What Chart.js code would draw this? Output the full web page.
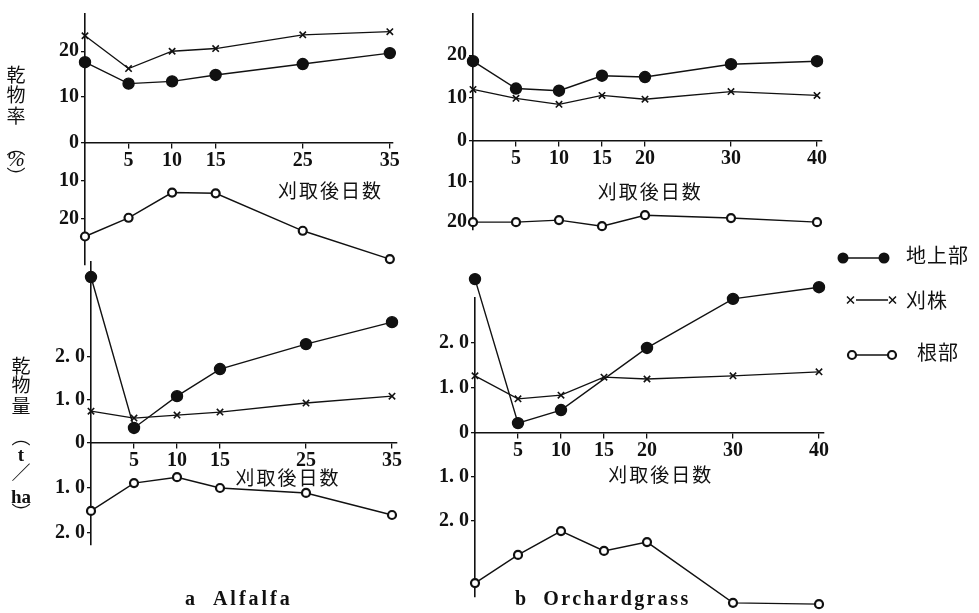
<!DOCTYPE html>
<html>
<head>
<meta charset="utf-8">
<script src="https://cdn.jsdelivr.net/npm/chart.js@4"></script>
<style>
  html, body { margin: 0; padding: 0; background: #fff; }
  #wrap { position: relative; width: 979px; height: 613px; overflow: hidden; background: #fff; }
  #wrap canvas { position: absolute; left: 0; top: 0; }
  .ch { position: absolute; width: 24px; text-align: center; line-height: 1;
        font-family: "Noto Sans CJK JP", sans-serif; font-size: 19px; color: #111; }
  .key { position: absolute; }
  .keytxt { position: absolute; font-family: "Noto Sans CJK JP", sans-serif; font-size: 20px;
            color: #111; letter-spacing: 1px; line-height: 1; }
  .cap { position: absolute; font-family: "Liberation Serif", serif; font-weight: bold;
         font-size: 20px; color: #111; letter-spacing: 3px; line-height: 1; white-space: pre; }
</style>
</head>
<body>
<div id="wrap">
  <canvas id="aRate" width="979" height="613"></canvas>
  <canvas id="bRate" width="979" height="613"></canvas>
  <canvas id="aMass" width="979" height="613"></canvas>
  <canvas id="bMass" width="979" height="613"></canvas>

  <!-- vertical axis names -->
  <div class="ch" style="left:4px;top:64px">乾</div>
  <div class="ch" style="left:4px;top:84px">物</div>
  <div class="ch" style="left:4px;top:105px">率</div>
  <div class="ch" style="left:4px;top:136px">︵</div>
  <div class="ch" style="left:4px;top:149px;font-family:'Liberation Serif';font-style:italic;font-size:21px">%</div>
  <div class="ch" style="left:4px;top:166px">︶</div>

  <div class="ch" style="left:9px;top:355px">乾</div>
  <div class="ch" style="left:9px;top:374px">物</div>
  <div class="ch" style="left:9px;top:395px">量</div>
  <div class="ch" style="left:9px;top:426px">︵</div>
  <div class="ch" style="left:9px;top:445px;font-family:'Liberation Serif';font-weight:bold">t</div>
  <div class="ch" style="left:9px;top:462px">／</div>
  <div class="ch" style="left:9px;top:487px;font-family:'Liberation Serif';font-weight:bold">ha</div>
  <div class="ch" style="left:9px;top:502px">︶</div>

  <!-- key -->
  <svg class="key" style="left:834px;top:248px" width="60" height="20">
    <line x1="9" y1="10" x2="50" y2="10" stroke="#111" stroke-width="1.5"/>
    <circle cx="9" cy="10" r="5.5" fill="#111"/><circle cx="50" cy="10" r="5.5" fill="#111"/>
  </svg>
  <div class="keytxt" style="left:906px;top:245px">地上部</div>
  <svg class="key" style="left:844px;top:290px" width="56" height="20">
    <line x1="12" y1="10" x2="44" y2="10" stroke="#111" stroke-width="1.5"/>
    <path d="M3 6.5 L10 13.5 M10 6.5 L3 13.5 M45 6.5 L52 13.5 M52 6.5 L45 13.5" stroke="#111" stroke-width="1.5"/>
  </svg>
  <div class="keytxt" style="left:906px;top:290px">刈株</div>
  <svg class="key" style="left:842px;top:345px" width="60" height="20">
    <line x1="14" y1="10" x2="46" y2="10" stroke="#111" stroke-width="1.5"/>
    <circle cx="10" cy="10" r="4" fill="#fff" stroke="#111" stroke-width="2.2"/>
    <circle cx="50" cy="10" r="4" fill="#fff" stroke="#111" stroke-width="2.2"/>
  </svg>
  <div class="keytxt" style="left:917px;top:342px">根部</div>

  <div class="cap" style="left:185px;top:588px">a  Alfalfa</div>
  <div class="cap" style="left:515px;top:588px;letter-spacing:2.4px">b  Orchardgrass</div>
</div>

<script>
// Days after cutting (刈取後日数)
const daysA = [0, 5, 10, 15, 25, 35];
const daysB = [0, 5, 10, 15, 20, 30, 40];
const dayTicksA = [5, 10, 15, 25, 35];
const dayTicksB = [5, 10, 15, 20, 30, 40];

const seriesNames = ['地上部', '刈株', '根部'];

// Dry matter ratio (%) — tops and stubble plotted upward, roots downward
const rateA_top     = [17.6, 12.9, 13.4, 14.8, 17.2, 19.6];
const rateA_stubble = [23.4, 16.2, 20.0, 20.6, 23.6, 24.3];
const rateA_root    = [24.6, 19.7, 13.1, 13.3, 23.1, 30.5];
const rateB_top     = [18.6, 12.2, 11.7, 15.2, 14.9, 17.9, 18.6];
const rateB_stubble = [12.0, 9.9, 8.5, 10.6, 9.7, 11.5, 10.6];
const rateB_root    = [20.0, 20.0, 19.5, 21.0, 18.3, 19.0, 20.0];

// Dry matter weight (t/ha)
const massA_top     = [3.86, 0.35, 1.09, 1.72, 2.30, 2.81];
const massA_stubble = [0.74, 0.58, 0.65, 0.72, 0.93, 1.09];
const massA_root    = [1.51, 0.89, 0.76, 1.00, 1.11, 1.60];
const massB_top     = [3.42, 0.22, 0.51, null, 1.89, 2.98, 3.24];
const massB_stubble = [1.27, 0.76, 0.84, 1.24, 1.20, 1.27, 1.36];
const massB_root    = [3.41, 2.77, 2.23, 2.68, 2.48, 3.86, 3.89];

// Axis tick labels
const rateUpTicks = [0, 10, 20];
const rateDownTicks = [10, 20];
const massUpTicks = [0, 1, 2];
const massDownTicks = [1, 2];

const AXIS_TITLE = '刈取後日数';

const INK = '#111';
const AXW = 50;
const PAGE_W = 979, PAGE_H = 613;

Chart.defaults.font.family = '"Liberation Serif", serif';
Chart.defaults.font.size = 20;
Chart.defaults.color = INK;

// markers are allowed to sit beyond the ends of the short axis spines
const PointEl = Chart.registry.getElement('point');
const basePointDraw = PointEl.prototype.draw;
const OPEN_AREA = { left: -1e5, top: -1e5, right: 1e5, bottom: 1e5 };
PointEl.prototype.draw = function (ctx) { return basePointDraw.call(this, ctx, OPEN_AREA); };

const rateFmt = v => String(v);
const massFmt = v => (v === 0 ? '0' : v.toFixed(1).replace('.', '. '));

// caption under the day axis, placed along the x scale
const dayCaption = {
  id: 'dayCaption',
  afterDraw(chart, args, opts) {
    const { ctx } = chart;
    const x = chart.scales.x.getPixelForValue(opts.at);
    const y = chart.scales.yTop.getPixelForValue(0) + opts.dy;
    ctx.save();
    ctx.font = '19px "Noto Sans CJK JP", sans-serif';
    ctx.letterSpacing = '2px';
    ctx.fillStyle = INK;
    ctx.textAlign = 'center';
    ctx.textBaseline = 'middle';
    ctx.fillText(opts.text, x, y);
    ctx.restore();
  }
};

const tickFont = { size: 20, weight: 'bold' };

function section(id, g, days, dayTicks, top, stubble, root, upTicks, downTicks, fmt, cap) {
  const upMax = (g.zeroY - g.topY) / g.upPx;
  const downMax = (g.bottomY - g.zeroY) / g.downPx;
  const xMax = (g.rightX - g.axisX) / g.dayPx;
  const pts = vals => days.map((d, i) => ({ x: d, y: vals[i] }));
  const tickSet = list => s => { s.ticks = list.map(v => ({ value: v })); };
  const yAxis = (extra) => Object.assign({
    type: 'linear', position: 'left', stack: 'side',
    afterFit: s => { s.width = AXW; },
    grid: { drawOnChartArea: false, tickLength: 4, color: INK, lineWidth: 1.3 },
    border: { color: INK, width: 1.6 },
    ticks: { padding: 2, color: INK, callback: fmt, font: tickFont }
  }, extra);

  return new Chart(document.getElementById(id), {
    type: 'line',
    data: {
      datasets: [
        { label: seriesNames[0], data: pts(top), yAxisID: 'yTop', spanGaps: true,
          borderColor: INK, backgroundColor: INK, borderWidth: 1.4,
          pointStyle: 'circle', pointRadius: 5.5, pointBackgroundColor: INK, pointBorderColor: INK },
        { label: seriesNames[1], data: pts(stubble), yAxisID: 'yTop',
          borderColor: INK, borderWidth: 1.3,
          pointStyle: 'crossRot', pointRadius: 4.5, pointBorderWidth: 1.6, pointBorderColor: INK },
        { label: seriesNames[2], data: pts(root), yAxisID: 'yBot',
          borderColor: INK, borderWidth: 1.4,
          pointStyle: 'circle', pointRadius: 4, pointBorderWidth: 2.2,
          pointBackgroundColor: '#fff', pointBorderColor: INK }
      ]
    },
    options: {
      responsive: false,
      animation: false,
      events: [],
      layout: { padding: { left: g.axisX - AXW, top: g.topY, right: PAGE_W - g.rightX, bottom: PAGE_H - g.bottomY } },
      elements: { line: { tension: 0, fill: false } },
      datasets: { line: { clip: false } },
      plugins: { legend: { display: false }, tooltip: { enabled: false },
                 dayCaption: { text: AXIS_TITLE, at: cap.at, dy: cap.dy } },
      scales: {
        x: {
          type: 'linear', min: 0, max: xMax, position: { yTop: 0 },
          afterBuildTicks: tickSet(dayTicks),
          grid: { drawOnChartArea: false, tickLength: 5, color: INK, lineWidth: 1.3 },
          border: { color: INK, width: 1.6 },
          ticks: { padding: 1, color: INK, autoSkip: false, maxRotation: 0, font: tickFont }
        },
        yTop: yAxis({ min: 0, max: upMax, weight: 2, stackWeight: g.zeroY - g.topY,
                      afterBuildTicks: tickSet(upTicks) }),
        yBot: yAxis({ min: 0, max: downMax, reverse: true, weight: 1, stackWeight: g.bottomY - g.zeroY,
                      afterBuildTicks: tickSet(downTicks) })
      }
    },
    plugins: [dayCaption]
  });
}

section('aRate',
  { axisX: 85, zeroY: 140, topY: 9, bottomY: 265, upPx: 4.65, downPx: 3.9, dayPx: 8.71, rightX: 393 },
  daysA, dayTicksA, rateA_top, rateA_stubble, rateA_root, rateUpTicks, rateDownTicks, rateFmt,
  { at: 28.2, dy: 48 });

section('bRate',
  { axisX: 473, zeroY: 139, topY: 10, bottomY: 230, upPx: 4.35, downPx: 4.15, dayPx: 8.6, rightX: 822 },
  daysB, dayTicksB, rateB_top, rateB_stubble, rateB_root, rateUpTicks, rateDownTicks, rateFmt,
  { at: 20.6, dy: 51 });

section('aMass',
  { axisX: 91, zeroY: 443, topY: 262, bottomY: 545, upPx: 43, downPx: 45, dayPx: 8.6, rightX: 397 },
  daysA, dayTicksA, massA_top, massA_stubble, massA_root, massUpTicks, massDownTicks, massFmt,
  { at: 22.9, dy: 35 });

section('bMass',
  { axisX: 475, zeroY: 433, topY: 298, bottomY: 597, upPx: 45, downPx: 44, dayPx: 8.6, rightX: 824 },
  daysB, dayTicksB, massB_top, massB_stubble, massB_root, massUpTicks, massDownTicks, massFmt,
  { at: 21.6, dy: 42 });
</script>
</body>
</html>
